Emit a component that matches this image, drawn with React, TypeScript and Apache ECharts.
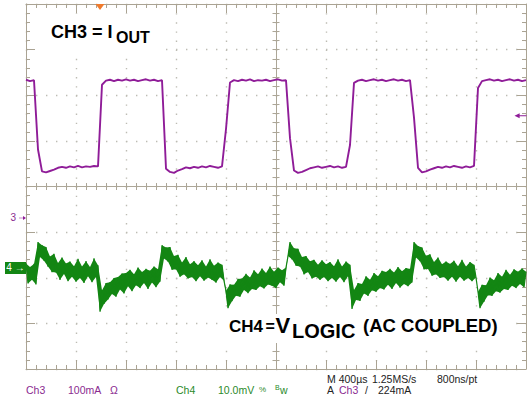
import React, { useEffect, useRef } from "react";
import * as echarts from "echarts";

// ---- acquisition / scale data ----
const TIME_SPAN_US = 4000; // 10 div x 400 µs
const CH3_DT_US = 32; // displayed sample spacing of the CH3 record
const CH4_DT_US = 16; // displayed sample spacing of the CH4 record
const CH3_RANGE_MA = [-331, 469]; // 100 mA/div, ground at marker "3"
const CH4_RANGE_MV = [-22.14, 57.86]; // 10 mV/div, ground at marker "4"
const DIV_X = [-5, 5];
const DIV_Y = [-4, 4];
const TRIGGER_T_US = 592;
const TRIGGER_LEVEL_MA = 224;

// CH3 = IOUT (mA)
const CH3_MA = [
  303, 300, 302,
  150,
  102, 100, 103, 106, 110, 112, 110, 113, 111, 114, 111, 113, 112, 114, 113,
  292,
  301, 303, 300, 303, 301, 304, 301, 303, 300, 302, 304, 301, 303, 300, 302,
  108,
  101, 99, 104, 107, 111, 109, 112, 110, 113, 111, 114, 112, 110, 113,
  195,
  297, 302, 300, 303, 301, 304, 300, 302, 301, 303, 300, 302, 304, 301, 302,
  175,
  104, 99, 101, 105, 109, 111, 113, 110, 112, 114, 111, 113, 110, 112,
  160,
  296, 301, 303, 300, 302, 304, 301, 303, 300, 302, 304, 301, 303, 300, 302,
  220,
  110, 100, 102, 106, 109, 112, 110, 113, 111, 114, 112, 110, 113, 111, 114,
  285,
  300, 302, 304, 301, 303, 300, 302, 304, 301, 303, 300, 302,
];

// CH4 = VLOGIC, AC coupled (mV); samples alternate upper / lower edge of the noisy trace
const CH4_MV = [
  1.0, -3.4, 0.2, -2.6, 0.9, -3.6,
  5.7, 2.4, 5.0, 1.6, 4.6, 0.3, 2.5, -0.9, 3.1, -1.0, 1.1, -2.6, 2.3, -1.3, 1.0, -2.9,
  1.4, -1.9, 0.4, -3.0, 2.0, -2.2, 0.3, -3.3, 1.5, -1.8, 0.2, -3.1, 2.1, -2.0, 0.6,
  -9.6, -4.9, -7.9, -3.3, -6.9, -3.1, -5.7, -2.2, -6.3, -2.0, -4.7, -1.2, -5.6, -1.1,
  -4.0, -0.4, -5.1, -1.4, -3.8, 0.1, -4.4, -0.9, -3.3, -0.2, -4.6, -0.6, -3.2, 0.3,
  -4.2, -0.3, -3.0,
  5.0, 2.1, 4.5, 1.4, 4.6, -0.4, 2.6, -0.3, 2.9, -1.9, 1.2, -1.4, 2.4, -2.3, 0.8, -2.0,
  1.5, -2.9, 0.6, -1.8, 1.7, -2.8, 0.3, -2.1, 1.9, -2.6, 0.5, -3.2, 1.2, -2.0, 0.7, -2.8,
  -5.0, -8.8, -3.6, -7.3, -3.7, -6.1, -2.4, -6.3, -2.3, -4.8, -1.3, -5.5, -2.1, -4.6,
  -0.5, -4.8, -1.4, -4.0, -0.1, -4.5, -1.1, -3.6, 0.3, -3.9, -0.8, -4.4, 0.1, -3.1,
  -0.5, -3.9, 0.1,
  2.6, 5.7, 1.9, 4.3, 0.5, 4.2, 0.3, 2.4, -1.4, 2.6, -0.9, 1.5, -2.3, 1.8, -1.9, 0.7,
  -2.6, 1.7, -2.0, 0.8, -2.9, 1.3, -2.2, 0.4, -3.0, 1.9, -2.0, 0.3, -3.1, 1.4, -1.8, 0.7,
  -9.0, -4.8, -7.0, -3.3, -7.2, -3.5, -5.6, -1.8, -6.1, -2.6, -4.9, -1.1, -5.2, -1.8,
  -4.4, -0.6, -4.7, -0.9, -3.7, -0.2, -4.6, -1.0, -3.3, 0.2, -4.3, -0.7, -3.5, 0.0,
  -4.0, -0.2, -3.2,
  5.7, 2.3, 4.8, 1.5, 4.5, -0.3, 2.7, -0.2, 3.0, -1.7, 1.3, -1.4, 2.3, -2.2, 0.8, -2.0,
  1.4, -2.8, 0.9, -1.9, 1.6, -3.0, 0.4, -1.9, 1.8, -2.8, 0.3, -2.2, 1.3, -2.9, 0.7, -2.1,
  -5.2, -8.8, -3.7, -7.4, -3.8, -6.0, -2.1, -6.1, -2.7, -5.1, -1.1, -5.4, -1.9, -4.6,
  -0.4, -4.8, -1.5, -3.9, -0.3, -4.4, -0.8, -3.5, -0.1, -4.2, -0.8,
];

// ---- styling ----
const BORDER = "#aaa393";
const CENTER = "#aca697";
const DOT = "#bdbcb3";
const PURPLE = "#8f1c98";
const PURPLE_TXT = "#8a2a90";
const GREEN = "#138613";
const GREEN_TXT = "#2a8a2a";
const ORANGE = "#f07a2c";
const FONT = '"Liberation Sans", Arial, sans-serif';

function frameAxis(position: string, withSplit: boolean, dash: number[]) {
  const horizontal = position === "top" || position === "bottom";
  return {
    type: "value",
    min: horizontal ? DIV_X[0] : DIV_Y[0],
    max: horizontal ? DIV_X[1] : DIV_Y[1],
    interval: 1,
    position,
    axisLine: { show: true, onZero: false, lineStyle: { color: BORDER, width: 1 } },
    axisTick: { show: true, inside: true, length: 9, lineStyle: { color: BORDER, width: 1 } },
    minorTick: { show: true, splitNumber: 5, length: 4, lineStyle: { color: BORDER, width: 1 } },
    axisLabel: { show: false },
    splitLine: withSplit
      ? { show: true, lineStyle: { color: DOT, width: 1.4, type: dash } }
      : { show: false },
  };
}

function centerAxis(isX: boolean, inside: boolean, zeroIndex: number) {
  return {
    type: "value",
    min: isX ? DIV_X[0] : DIV_Y[0],
    max: isX ? DIV_X[1] : DIV_Y[1],
    interval: 1,
    position: isX ? "bottom" : "left",
    axisLine: { show: true, onZero: true, onZeroAxisIndex: zeroIndex, lineStyle: { color: CENTER, width: 1 } },
    axisTick: { show: true, inside, length: 3.5, lineStyle: { color: CENTER, width: 1 } },
    minorTick: { show: true, splitNumber: 5, length: 3.5, lineStyle: { color: CENTER, width: 1 } },
    axisLabel: { show: false },
    splitLine: { show: false },
  };
}

function txt(text: string, x: number, y: number, fill: string, size = 10.5, weight = "normal") {
  return {
    type: "text",
    x,
    y,
    z: 60,
    silent: true,
    style: {
      text,
      fill,
      fontSize: size,
      fontWeight: weight,
      fontFamily: FONT,
      align: "left",
      verticalAlign: "middle",
    },
  };
}

export default function App() {
  const ref = useRef<HTMLDivElement>(null);

  useEffect(() => {
    if (!ref.current) return;
    const chart = echarts.init(ref.current, undefined, { renderer: "svg" });

    const ch3Data = CH3_MA.map((v, i) => [i * CH3_DT_US, v]);
    const ch4Data = CH4_MV.map((v, i) => [i * CH4_DT_US, v]);

    chart.setOption({
      animation: false,
      backgroundColor: "#ffffff",
      grid: { left: 26, top: 4, width: 500, height: 365, containLabel: false, outerBoundsMode: "none" },
      xAxis: [
        { type: "value", min: 0, max: TIME_SPAN_US, show: false },
        frameAxis("bottom", true, [1.4, 7.725]),
        frameAxis("top", false, []),
        centerAxis(true, true, 0),
        centerAxis(true, false, 0),
      ],
      yAxis: [
        frameAxis("left", true, [1.4, 8.6]),
        frameAxis("right", false, []),
        centerAxis(false, true, 1),
        centerAxis(false, false, 1),
        { type: "value", min: CH3_RANGE_MA[0], max: CH3_RANGE_MA[1], show: false },
        { type: "value", min: CH4_RANGE_MV[0], max: CH4_RANGE_MV[1], show: false },
      ],
      series: [
        {
          // filled envelope of the noisy CH4 trace (upper samples forward, lower samples back)
          name: "CH4 band",
          type: "custom",
          xAxisIndex: 0,
          yAxisIndex: 5,
          silent: true,
          z: 2,
          data: [[0, 0]],
          renderItem: (_params: any, api: any) => {
            const upper: number[][] = [];
            const lower: number[][] = [];
            ch4Data.forEach((p, i) => {
              const c = api.coord(p);
              if (i % 2 === 0) upper.push(c);
              else lower.push(c);
            });
            lower.reverse();
            return {
              type: "polygon",
              shape: { points: upper.concat(lower) },
              style: { fill: GREEN, stroke: "none" },
            };
          },
        },
        {
          name: "CH4",
          type: "line",
          xAxisIndex: 0,
          yAxisIndex: 5,
          data: ch4Data,
          symbol: "none",
          showSymbol: false,
          silent: true,
          z: 3,
          lineStyle: { color: GREEN, width: 1.2, join: "bevel" },
          itemStyle: { color: GREEN },
          markPoint: {
            silent: true,
            label: { show: false },
            data: [
              {
                coord: [0, 0],
                symbol: "rect",
                symbolSize: [21, 12],
                symbolOffset: [-10.5, 0],
                itemStyle: { color: GREEN },
                label: { show: true, formatter: "4 →", position: "inside", color: "#ffffff", fontSize: 10, fontFamily: FONT },
              },
            ],
          },
        },
        {
          name: "CH3",
          type: "line",
          xAxisIndex: 0,
          yAxisIndex: 4,
          data: ch3Data,
          symbol: "none",
          showSymbol: false,
          silent: true,
          z: 4,
          lineStyle: { color: PURPLE, width: 1.9 },
          itemStyle: { color: PURPLE },
          markPoint: {
            silent: true,
            label: { show: false },
            data: [
              {
                coord: [TRIGGER_T_US, CH3_RANGE_MA[1]],
                symbol: "triangle",
                symbolRotate: 180,
                symbolSize: [9, 6],
                symbolOffset: [0, 3],
                itemStyle: { color: ORANGE },
              },
              {
                coord: [TIME_SPAN_US, TRIGGER_LEVEL_MA],
                symbol: "path://M0,3L6,0L6,2.5L14,2.5L14,3.5L6,3.5L6,6Z",
                symbolKeepAspect: false,
                symbolSize: [12, 5],
                symbolOffset: [-5.5, 0],
                itemStyle: { color: PURPLE },
              },
              {
                coord: [0, 0],
                symbol: "path://M0,2.5L8,2.5L8,0L14,3L8,6L8,3.5L0,3.5Z",
                symbolKeepAspect: false,
                symbolSize: [7, 4],
                symbolOffset: [-3.5, 0],
                itemStyle: { color: PURPLE },
                label: { show: true, formatter: "3", position: "left", distance: 3, color: PURPLE_TXT, fontSize: 10, fontFamily: FONT },
              },
            ],
          },
        },
      ],
      graphic: {
        elements: [
          { type: "rect", z: 50, silent: true, shape: { x: 36, y: 14, width: 122, height: 42 }, style: { fill: "#ffffff" } },
          { type: "rect", z: 50, silent: true, shape: { x: 222, y: 314, width: 290, height: 29 }, style: { fill: "#ffffff" } },
          txt("CH3 = I", 51, 32, "#000000", 18, "bold"),
          txt("OUT", 116, 37.8, "#000000", 16, "bold"),
          txt("CH4", 229, 326.3, "#000000", 17, "bold"),
          txt("=", 265.5, 326.3, "#000000", 16, "bold"),
          txt("V", 275.5, 325.1, "#000000", 22, "bold"),
          txt("LOGIC", 292, 331.1, "#000000", 20, "bold"),
          txt("(AC COUPLED)", 363, 325.6, "#000000", 18.5, "bold"),
          txt("Ch3", 26, 390, PURPLE_TXT),
          txt("100mA", 68, 390, PURPLE_TXT),
          txt("Ω", 110, 390, PURPLE_TXT),
          txt("Ch4", 176, 390, GREEN_TXT),
          txt("10.0mV", 218, 390, GREEN_TXT),
          txt("%", 259, 389.5, GREEN_TXT, 8),
          txt("B", 275, 387.5, GREEN_TXT, 7),
          txt("w", 280, 390, GREEN_TXT),
          txt("M 400µs", 327, 379, "#222222"),
          txt("1.25MS/s", 372, 379, "#222222"),
          txt("800ns/pt", 437, 379, "#222222"),
          txt("A", 327, 390, "#222222"),
          txt("Ch3", 339, 390, PURPLE_TXT),
          txt("/", 365, 390, "#222222"),
          txt("224mA", 378, 390, "#222222"),
        ],
      },
    });

    return () => chart.dispose();
  }, []);

  return (
    <div
      ref={ref}
      style={{ position: "absolute", left: 0, top: 0, width: 527, height: 402, background: "#ffffff" }}
    />
  );
}
